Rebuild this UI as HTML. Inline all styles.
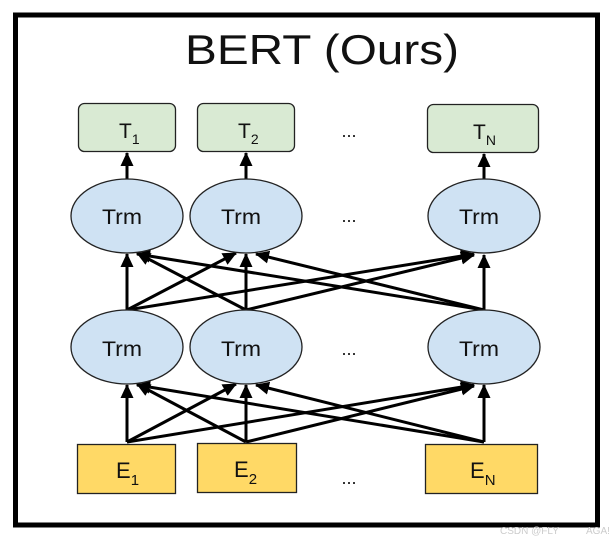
<!DOCTYPE html>
<html><head><meta charset="utf-8"><style>
html,body{margin:0;padding:0;background:#fff;}
svg{display:block;}
text{font-family:"Liberation Sans",Arial,sans-serif;fill:#111;}
</style></head><body>
<svg width="615" height="541" viewBox="0 0 615 541" xmlns="http://www.w3.org/2000/svg">
<defs>
<marker id="b" markerWidth="14" markerHeight="13" refX="13" refY="6.5" orient="auto" markerUnits="userSpaceOnUse" viewBox="0 0 14 13">
<path d="M0,0 L14,6.5 L0,13 z" fill="#000"/>
</marker>
</defs>
<rect x="15.5" y="15" width="582" height="510" fill="#fff" stroke="#000" stroke-width="5"/>
<text x="185" y="64" font-size="42" textLength="274" lengthAdjust="spacingAndGlyphs">BERT (Ours)</text>

<rect x="78.5" y="103.5" width="97" height="48" rx="6" fill="#d9ead3" stroke="#222" stroke-width="1.3"/>
<rect x="197.5" y="103.5" width="97" height="48" rx="6" fill="#d9ead3" stroke="#222" stroke-width="1.3"/>
<rect x="427.5" y="104.5" width="111" height="48" rx="6" fill="#d9ead3" stroke="#222" stroke-width="1.3"/>
<text x="119" y="138" font-size="21">T<tspan font-size="14" dy="6">1</tspan></text>
<text x="238" y="138" font-size="21">T<tspan font-size="14" dy="6">2</tspan></text>
<text x="473" y="139" font-size="21">T<tspan font-size="14" dy="6">N</tspan></text>
<text x="349" y="137" font-size="18" text-anchor="middle">...</text>

<g stroke="#000" stroke-width="3" fill="none">
<line x1="127" y1="180" x2="127" y2="153" marker-end="url(#b)"/>
<line x1="246" y1="180" x2="246" y2="153" marker-end="url(#b)"/>
<line x1="484" y1="180" x2="484" y2="154" marker-end="url(#b)"/>
<line x1="127" y1="310" x2="127" y2="254" marker-end="url(#b)"/>
<line x1="127" y1="310" x2="236" y2="253" marker-end="url(#b)"/>
<line x1="127" y1="310" x2="474" y2="254" marker-end="url(#b)"/>
<line x1="246" y1="310" x2="246" y2="254" marker-end="url(#b)"/>
<line x1="246" y1="310" x2="137" y2="253" marker-end="url(#b)"/>
<line x1="246" y1="310" x2="474" y2="255" marker-end="url(#b)"/>
<line x1="484" y1="310" x2="484" y2="255" marker-end="url(#b)"/>
<line x1="484" y1="310" x2="137" y2="254" marker-end="url(#b)"/>
<line x1="484" y1="310" x2="256" y2="254" marker-end="url(#b)"/>
<line x1="127" y1="442" x2="127" y2="385" marker-end="url(#b)"/>
<line x1="127" y1="442" x2="236" y2="384" marker-end="url(#b)"/>
<line x1="127" y1="442" x2="474" y2="385" marker-end="url(#b)"/>
<line x1="246" y1="442" x2="246" y2="385" marker-end="url(#b)"/>
<line x1="246" y1="442" x2="137" y2="384" marker-end="url(#b)"/>
<line x1="246" y1="442" x2="474" y2="386" marker-end="url(#b)"/>
<line x1="484" y1="442" x2="484" y2="385" marker-end="url(#b)"/>
<line x1="484" y1="442" x2="137" y2="385" marker-end="url(#b)"/>
<line x1="484" y1="442" x2="256" y2="385" marker-end="url(#b)"/>
</g>

<g fill="#cfe2f3" stroke="#222" stroke-width="1.3">
<ellipse cx="127" cy="216" rx="56" ry="37"/>
<ellipse cx="246" cy="216" rx="56" ry="37"/>
<ellipse cx="484" cy="216" rx="56" ry="37"/>
<ellipse cx="127" cy="347" rx="56" ry="37"/>
<ellipse cx="246" cy="347" rx="56" ry="37"/>
<ellipse cx="484" cy="347" rx="56" ry="37"/>
</g>
<g font-size="21">
<text x="102" y="224" textLength="40" lengthAdjust="spacingAndGlyphs">Trm</text>
<text x="221" y="224" textLength="40" lengthAdjust="spacingAndGlyphs">Trm</text>
<text x="459" y="224" textLength="40" lengthAdjust="spacingAndGlyphs">Trm</text>
<text x="102" y="356" textLength="40" lengthAdjust="spacingAndGlyphs">Trm</text>
<text x="221" y="356" textLength="40" lengthAdjust="spacingAndGlyphs">Trm</text>
<text x="459" y="356" textLength="40" lengthAdjust="spacingAndGlyphs">Trm</text>
</g>
<text x="349" y="222" font-size="18" text-anchor="middle">...</text>
<text x="349" y="355" font-size="18" text-anchor="middle">...</text>

<rect x="77.5" y="444.5" width="98" height="49" fill="#ffd966" stroke="#222" stroke-width="1.3"/>
<rect x="197.5" y="443.5" width="99" height="49" fill="#ffd966" stroke="#222" stroke-width="1.3"/>
<rect x="425.5" y="444.5" width="112" height="49" fill="#ffd966" stroke="#222" stroke-width="1.3"/>
<text x="116" y="478" font-size="22">E<tspan font-size="15" dy="7">1</tspan></text>
<text x="234" y="477" font-size="22">E<tspan font-size="15" dy="7">2</tspan></text>
<text x="470" y="478" font-size="22">E<tspan font-size="15" dy="7">N</tspan></text>
<text x="349" y="484" font-size="18" text-anchor="middle">...</text>

<text x="500" y="534" font-size="10" style="fill:#ccc">CSDN @FLY</text>
<text x="586" y="534" font-size="10" style="fill:#ccc">AGA!</text>
</svg>
</body></html>
